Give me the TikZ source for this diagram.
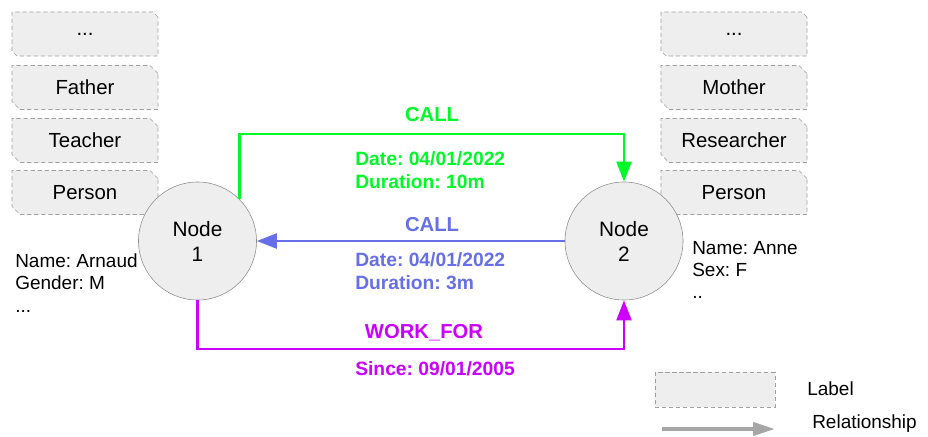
\documentclass[tikz,border=0pt]{standalone}
\usepackage{fontspec}
\setmainfont{Liberation Sans}
\frenchspacing
\usetikzlibrary{shapes.misc,arrows.meta}
\definecolor{callgreen}{RGB}{0,250,40}
\definecolor{callblue}{RGB}{102,110,232}
\definecolor{workpurple}{RGB}{204,0,255}
\definecolor{boxgray}{RGB}{238,238,238}
\tikzset{
  lblbox/.style={chamfered rectangle, chamfered rectangle corners={north east,south west},
    chamfered rectangle sep=0.1cm, draw=gray!75, fill=boxgray, dash pattern=on 3pt off 2pt,
    minimum width=3.65cm, minimum height=1.1cm, inner sep=0pt, font=\fontsize{14.5}{17.4}\selectfont},
  nodecirc/.style={circle, draw=gray!90, fill=boxgray, minimum size=2.95cm, inner sep=0pt,
    align=center, font=\fontsize{14.8}{17.8}\selectfont},
  props/.style={inner sep=0pt, align=left, font=\fontsize{13.5}{15.8}\selectfont},
  relname/.style={inner sep=0pt, font=\fontsize{14.4}{17}\selectfont\bfseries},
  relprop/.style={inner sep=0pt, align=left, anchor=west, font=\fontsize{13.7}{16.4}\selectfont\bfseries},
  rel/.style={line width=2pt, -{Triangle[length=0.5cm,width=0.37cm]}}
}
\begin{document}
\begin{tikzpicture}[x=0.025cm,y=-0.025cm]
\useasboundingbox (0,0) rectangle (928,436);
% labels of node 1
\node[lblbox] (dots1) at (85,34) {...};
\node[lblbox] (father) at (85,87.5) {Father};
\node[lblbox] (teacher) at (85,140.5) {Teacher};
\node[lblbox] (person1) at (85,192.5) {Person};
% labels of node 2
\node[lblbox] (dots2) at (734,34) {...};
\node[lblbox] (mother) at (734,87.5) {Mother};
\node[lblbox] (researcher) at (734,140.5) {Researcher};
\node[lblbox] (person2) at (734,192.5) {Person};
\node[nodecirc] (n1) at (197.5,241) {Node\\1};
\node[nodecirc] (n2) at (624,241) {Node\\2};
\node[props, anchor=west] (props1) at (15,283) {Name: Arnaud\\Gender: M\\...};
\node[props, anchor=west] (props2) at (692,270) {Name: Anne\\Sex: F\\..};
% relationships
\coordinate (top) at (432,134);
\coordinate (bot) at (432,349);
\draw[rel, callgreen] (n1.45) |- (top) -| (n2.north);
\draw[rel, callblue] (n2.west) -- (n1.east);
\draw[rel, workpurple] (n1.south) |- (bot) -| (n2.south);
\node[relname, text=callgreen] (call1) at (432,115) {CALL};
\node[relprop, text=callgreen] (call1p) at (355,170) {Date: 04/01/2022\\Duration: 10m};
\node[relname, text=callblue] (call2) at (432,225) {CALL};
\node[relprop, text=callblue] (call2p) at (355,271) {Date: 04/01/2022\\Duration: 3m};
\node[relname, text=workpurple] (work) at (424,333) {WORK\_FOR};
\node[relprop, text=workpurple] (workp) at (355,369) {Since: 09/01/2005};
% legend
\node[lblbox, minimum width=3cm, minimum height=0.875cm] (leglbl) at (715,389.5) {};
\node[props, anchor=west] (legltext) at (807,389) {Label};
\coordinate (rs) at (662,429);
\coordinate (re) at (775,429);
\draw[line width=2.5pt, gray!70, -{Triangle[length=0.55cm,width=0.33cm]}] (rs) -- (re);
\node[props, anchor=west] (legrtext) at (812,424) {Relationship};
\end{tikzpicture}
\end{document}
